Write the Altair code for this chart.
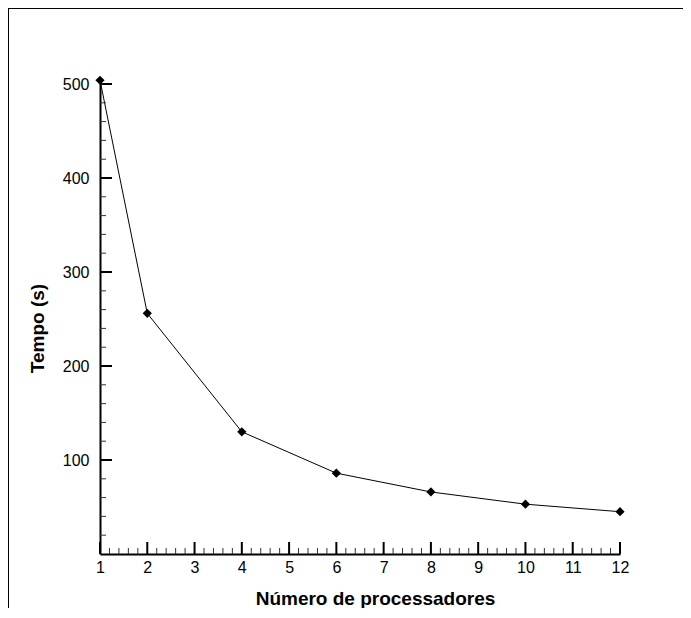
import altair as alt
import pandas as pd

# Data
processadores = [1, 2, 4, 6, 8, 10, 12]
tempo = [504, 256, 130, 86, 66, 53, 45]

x_major = [1, 2, 3, 4, 5, 6, 7, 8, 9, 10, 11, 12]
y_major = [100, 200, 300, 400, 500]
x_minor = [round(1 + i * 0.2, 1) for i in range(56) if i % 5 != 0]
y_minor = [v for v in range(20, 501, 20) if v % 100 != 0]

FONT = "Liberation Sans"
W, H = 520, 473
PAD_L, PAD_T, PAD_R, PAD_B = 92, 73, 63, 54

xs = alt.Scale(domain=[1, 12], nice=False, zero=False)
ys = alt.Scale(domain=[0, 503.2], nice=False, zero=False)

x_axis = alt.Axis(
    values=x_major, ticks=False, grid=False, domainColor="black", domainWidth=2,
    labelFont=FONT, labelFontSize=16, labelColor="black", labelPadding=5,
    labelFlush=False, title="Número de processadores", titleFont=FONT,
    titleFontSize=19, titleFontWeight="bold", titleColor="black",
    titleX=275, titleY=35, titleBaseline="top", titleAnchor="start", titleAlign="center",
)
y_axis = alt.Axis(
    values=y_major, ticks=False, grid=False, domainColor="black", domainWidth=2,
    labelFont=FONT, labelFontSize=16, labelColor="black", labelPadding=11,
    labelFlush=False, title="Tempo (s)", titleFont=FONT, titleFontSize=19,
    titleFontWeight="bold", titleColor="black", titleX=-63, titleY=247,
    titleBaseline="middle", titleAlign="center", titleAngle=270,
)


def X(f):
    return alt.X(f, scale=xs, axis=x_axis)


def Y(f):
    return alt.Y(f, scale=ys, axis=y_axis)


df = pd.DataFrame({"n": processadores, "t": tempo})

line = alt.Chart(df).mark_line(color="black", strokeWidth=1).encode(x=X("n:Q"), y=Y("t:Q"))
pts = alt.Chart(df).mark_point(shape="diamond", filled=True, color="black", size=85, opacity=1).encode(
    x=X("n:Q"), y=Y("t:Q")
)

ymaj = alt.Chart(pd.DataFrame({"t": y_major})).mark_rule(color="black", strokeWidth=2).encode(
    y=Y("t:Q"), x=alt.value(0), x2=alt.value(12)
)
ymin = alt.Chart(pd.DataFrame({"t": y_minor})).mark_rule(color="#333", strokeWidth=1).encode(
    y=Y("t:Q"), x=alt.value(0), x2=alt.value(6)
)
xmaj = alt.Chart(pd.DataFrame({"n": x_major})).mark_rule(color="black", strokeWidth=2).encode(
    x=X("n:Q"), y=alt.value(H), y2=alt.value(H - 12)
)
xmin = alt.Chart(pd.DataFrame({"n": x_minor})).mark_rule(color="#333", strokeWidth=1).encode(
    x=X("n:Q"), y=alt.value(H), y2=alt.value(H - 6)
)

frame_top = alt.Chart(pd.DataFrame({"a": [0]})).mark_rule(color="black", strokeWidth=1).encode(
    x=alt.value(-PAD_L), x2=alt.value(W + PAD_R), y=alt.value(-PAD_T + 0.5)
)
frame_left = alt.Chart(pd.DataFrame({"a": [0]})).mark_rule(color="black", strokeWidth=1).encode(
    x=alt.value(-PAD_L + 0.5), y=alt.value(-PAD_T), y2=alt.value(H + PAD_B)
)

chart = alt.layer(line, ymin, ymaj, xmin, xmaj, pts, frame_top, frame_left).properties(
    width=W, height=H,
    background="white",
    autosize=alt.AutoSizeParams(type="none"),
    padding={"left": PAD_L, "top": PAD_T, "right": PAD_R, "bottom": PAD_B},
).configure_view(strokeWidth=0, stroke="transparent")

chart.save("out.html", embed_options={"renderer": "svg", "actions": False})
